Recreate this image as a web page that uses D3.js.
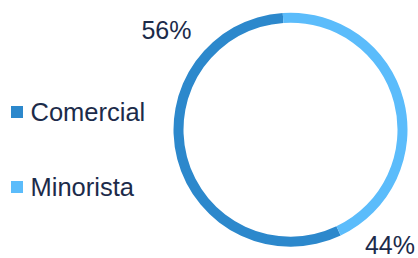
<!DOCTYPE html>
<html>
<head>
<meta charset="utf-8">
<script src="https://cdn.jsdelivr.net/npm/d3@7"></script>
<style>
  html, body { margin: 0; padding: 0; background: #fff; }
  text { font-family: "Liberation Sans", Arial, sans-serif; fill: #1c2b4a; }
</style>
</head>
<body>
<script>
// segment data
var categories = ["Comercial", "Minorista"];
var shares = [56, 44];
var labels = ["56%", "44%"];
var colors = ["#2c88cc", "#5bbcfb"];

var width = 418, height = 258;
var cx = 290.5, cy = 129.7, outerR = 117, innerR = 107;

var svg = d3.select("body").append("svg")
    .attr("width", width)
    .attr("height", height);

var start = 154.6 * Math.PI / 180;
var pie = d3.pie().sort(null).startAngle(start).endAngle(start + 2 * Math.PI);
var arc = d3.arc().innerRadius(innerR).outerRadius(outerR);

var g = svg.append("g").attr("transform", "translate(" + cx + "," + cy + ")");
g.selectAll("path")
    .data(pie(shares))
    .enter().append("path")
      .attr("d", arc)
      .attr("fill", function(d, i) { return colors[i]; });

// percentage labels, placed outside the ring
var labelPos = [[166.5, 39], [390, 254]];
svg.selectAll("text.pct")
    .data(labels)
    .enter().append("text")
      .attr("class", "pct")
      .attr("x", function(d, i) { return labelPos[i][0]; })
      .attr("y", function(d, i) { return labelPos[i][1]; })
      .attr("text-anchor", "middle")
      .style("font-size", "25px")
      .text(function(d) { return d; });

// legend
var legend = svg.selectAll("g.legend")
    .data(categories)
    .enter().append("g")
      .attr("class", "legend")
      .attr("transform", function(d, i) { return "translate(11," + (106 + i * 75) + ")"; });

legend.append("rect")
    .attr("width", 12)
    .attr("height", 12)
    .attr("fill", function(d, i) { return colors[i]; });

legend.append("text")
    .attr("x", 19.5)
    .attr("y", 15)
    .style("font-size", "25.5px")
    .text(function(d) { return d; });
</script>
</body>
</html>
